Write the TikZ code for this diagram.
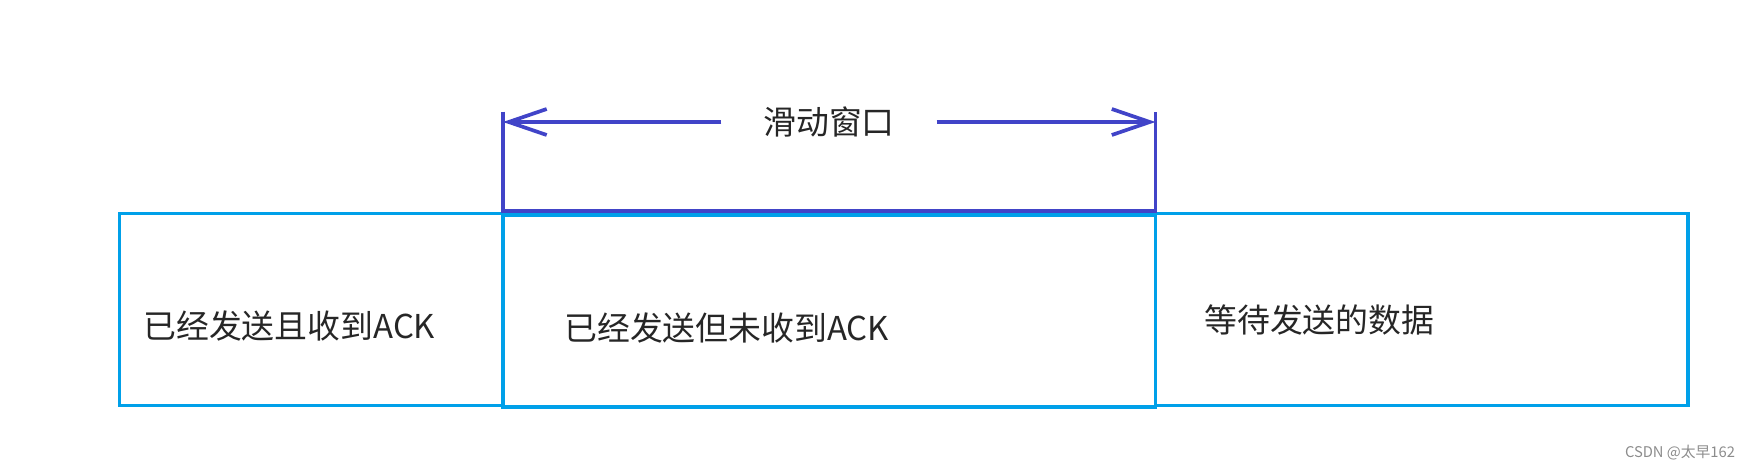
\documentclass[tikz,border=0pt]{standalone}
\usepackage{fontspec}
\setmainfont{Noto Sans CJK SC}
\definecolor{winblue}{RGB}{65,68,200}
\definecolor{boxblue}{RGB}{0,160,233}
\usetikzlibrary{arrows.meta,positioning}

\begin{document}
\begin{tikzpicture}[
  seg/.style={draw=boxblue, line width=2pt, minimum height=3.84cm, inner sep=0pt, outer sep=0pt},
  lbl/.style={font=\fontsize{18.7}{22}\selectfont, text=black!85, inner sep=0pt, anchor=west},
  win/.style={draw=winblue, line width=2.1pt}
]
  \useasboundingbox (0,0) rectangle (35.04,9.4);

  % the three parts of the send buffer
  \node[seg, minimum width=7.67cm] (acked) at (6.225,3.21) {};
  \node[seg, minimum width=13.05cm, right=0pt of acked, yshift=-0.03cm] (unacked) {};
  \node[seg, minimum width=10.65cm, right=0pt of unacked, yshift=0.03cm] (waiting) {};

  \node[lbl] (t1) at ([xshift=0.47cm, yshift=-0.33cm]acked.west) {已经发送且收到ACK};
  \node[lbl] (t2) at ([xshift=1.22cm, yshift=-0.34cm]unacked.west) {已经发送但未收到ACK};
  \node[lbl] (t3) at ([xshift=0.97cm, yshift=-0.21cm]waiting.west) {等待发送的数据};

  % window bracket
  \coordinate (wl) at ([yshift=2.07cm]unacked.north west);
  \coordinate (wr) at ([yshift=2.07cm]unacked.north east);
  \draw[win] (wl) -- ([yshift=0.08cm]unacked.north west) -- ([yshift=0.08cm]unacked.north east) -- (wr);

  \node[lbl, anchor=center, inner xsep=0.83cm] (wname) at (16.58,6.96) {滑动窗口};
  \draw[win, -{Straight Barb[length=0.76cm, width=0.52cm]}] (wname.west) -- (wname.west -| wl);
  \draw[win, -{Straight Barb[length=0.76cm, width=0.52cm]}] (wname.east) -- (wname.east -| wr);

  \node[font=\fontsize{8.4}{10}\selectfont, text=black!45] (mark) at (33.6,0.35) {CSDN @太早162};
\end{tikzpicture}
\end{document}
